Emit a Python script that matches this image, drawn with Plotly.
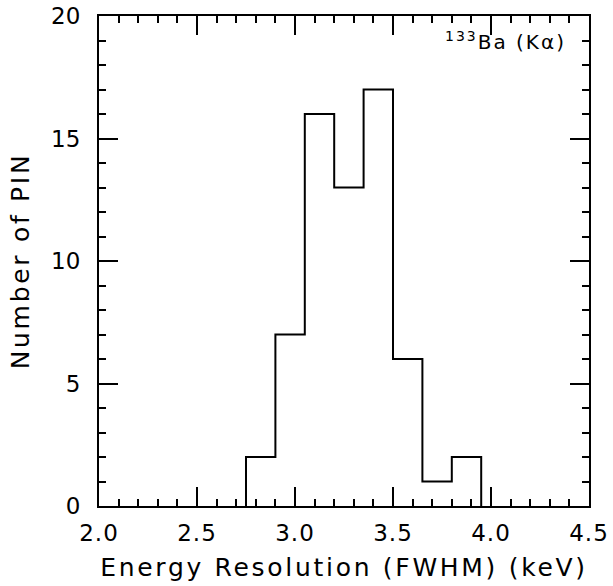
import plotly.graph_objects as go

# histogram of FWHM energy resolution, bin edges and counts
bin_edges = [2.75, 2.90, 3.05, 3.20, 3.35, 3.50, 3.65, 3.80, 3.95]
counts = [2, 7, 16, 13, 17, 6, 1, 2]

x_ticks = [2.0, 2.5, 3.0, 3.5, 4.0, 4.5]
x_ticktext = ["2.0", "2.5", "3.0", "3.5", "4.0", "4.5"]
y_ticks = [0, 5, 10, 15, 20]

FONT = "DejaVu Sans"


def spaced(txt, px):
    # the original uses a wide, loosely spaced plotter font
    return '<span style="letter-spacing:%spx">%s</span>' % (px, txt)


# step outline: start on the baseline, step through every bin, drop back to 0
step_x = [bin_edges[0]] + bin_edges
step_y = [0] + counts + [0]

fig = go.Figure()
fig.add_trace(go.Scatter(
    x=step_x,
    y=step_y,
    mode="lines",
    line=dict(color="black", width=2, shape="hv"),
    hoverinfo="skip",
    showlegend=False,
))

axis_common = dict(
    showgrid=False,
    zeroline=False,
    showline=True,
    linecolor="black",
    linewidth=2,
    mirror="allticks",
    ticks="inside",
    ticklen=19,
    tickwidth=1.5,
    tickcolor="black",
    automargin=False,
    tickfont=dict(family=FONT, size=23, color="black"),
)

fig.update_xaxes(
    range=[2.0, 4.5],
    tickvals=x_ticks,
    ticktext=[spaced(t, 1) for t in x_ticktext],
    minor=dict(dtick=0.1, ticks="inside", ticklen=7, tickwidth=1.5, tickcolor="black"),
    ticklabelstandoff=5,
    title=dict(text=spaced("Energy Resolution (FWHM) (keV)", 2.7),
               font=dict(family=FONT, size=25, color="black"), standoff=14),
    **axis_common,
)
fig.update_yaxes(
    range=[0, 20],
    tickvals=y_ticks,
    minor=dict(dtick=1, ticks="inside", ticklen=7, tickwidth=1.5, tickcolor="black"),
    ticklabelstandoff=12,
    title=dict(text=spaced("Number of PIN", 2.7),
               font=dict(family=FONT, size=25, color="black"), standoff=14),
    **axis_common,
)

fig.add_annotation(
    x=0.957, y=0.95, xref="paper", yref="paper",
    xanchor="right", yanchor="middle",
    text=spaced("<sup>133</sup>Ba (K\u03b1)", 2),
    showarrow=False,
    font=dict(family=FONT, size=20, color="black"),
)

fig.update_layout(
    width=613,
    height=586,
    margin=dict(l=99, r=24, t=16, b=80),
    paper_bgcolor="white",
    plot_bgcolor="white",
)

# drop the default 8px body margin so the figure fills the window exactly
fig.write_html(
    "out.html",
    config={"displayModeBar": False},
    post_script="document.body.style.margin='0';document.body.style.overflow='hidden';",
)
